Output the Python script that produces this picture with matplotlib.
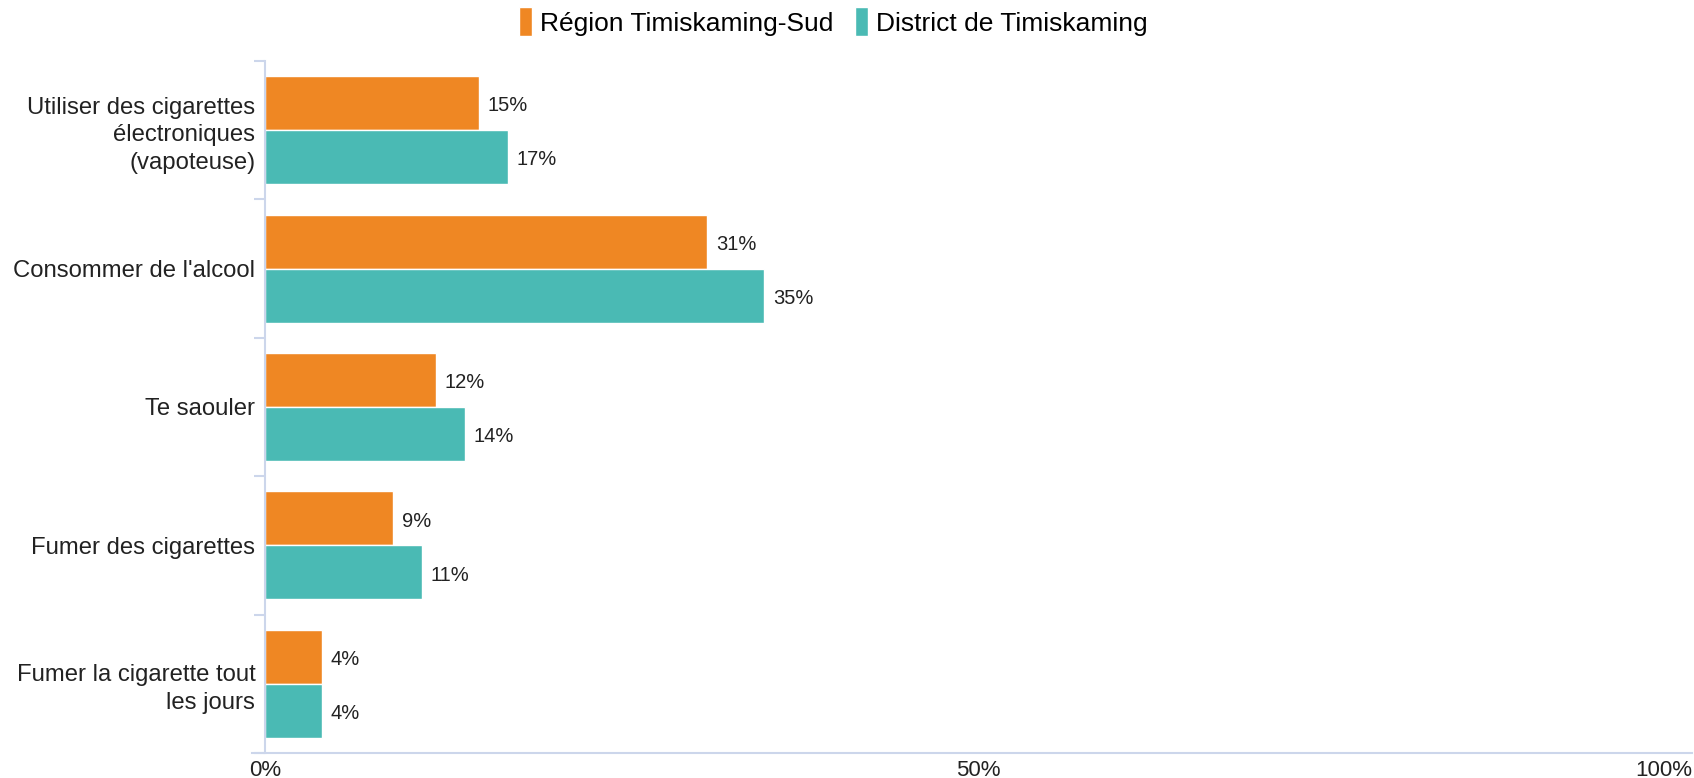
import matplotlib.pyplot as plt
import numpy as np

plt.rcParams['font.family'] = ['Liberation Sans', 'DejaVu Sans']

categories = ["Utiliser des cigarettes\nélectroniques\n(vapoteuse)",
              "Consommer de l'alcool",
              "Te saouler",
              "Fumer des cigarettes",
              "Fumer la cigarette tout\nles jours"]
region_sud = [15, 31, 12, 9, 4]
district = [17, 35, 14, 11, 4]
series_names = ["Région Timiskaming-Sud", "District de Timiskaming"]
colors = ["#EF8723", "#4ABAB4"]
axis_color = "#ccd6eb"

fig = plt.figure(figsize=(16.94, 7.78), dpi=100)
ax = fig.add_axes([265 / 1694, 25 / 778, 1427 / 1694, 692 / 778])

y = np.arange(len(categories))
h = 0.39
for vals, off, col, name in [(region_sud, -h / 2, colors[0], series_names[0]),
                             (district, h / 2, colors[1], series_names[1])]:
    bars = ax.barh(y + off, vals, height=h, color=col, edgecolor='white',
                   linewidth=1, label=name)
    for b, v in zip(bars, vals):
        ax.text(b.get_width() + 0.6, b.get_y() + b.get_height() / 2 + 0.02, f"{v}%",
                va='center', ha='left', fontsize=14.5, color='#222222')

ax.set_xlim(0, 100)
ax.set_ylim(len(categories) - 0.5, -0.5)

ax.set_yticks(y)
ax.set_yticklabels(categories, fontsize=17.2, color='#222222', linespacing=1.32)
ax.tick_params(axis='y', which='major', length=0, pad=7)
ax.set_yticks(np.arange(len(categories) + 1) - 0.5, minor=True)
ax.tick_params(axis='y', which='minor', length=8, color=axis_color, width=1.5)

ax.set_xticks([0, 50, 100])
ax.set_xticklabels(["0%", "50%", "100%"], fontsize=16, color='#222222')
ax.get_xticklabels()[2].set_horizontalalignment('right')
ax.tick_params(axis='x', length=0, pad=5)

for s in ['top', 'right']:
    ax.spines[s].set_visible(False)
for s in ['left', 'bottom']:
    ax.spines[s].set_color(axis_color)
    ax.spines[s].set_linewidth(1.5)
ax.spines['bottom'].set_bounds(-0.9, 100)

fig.legend(loc='center', bbox_to_anchor=(0.492, 0.972), ncol=2, frameon=False,
           fontsize=19, handlelength=0.5, handleheight=1.3, handletextpad=0.3,
           columnspacing=0.8)

plt.savefig("out.png", dpi=100)
